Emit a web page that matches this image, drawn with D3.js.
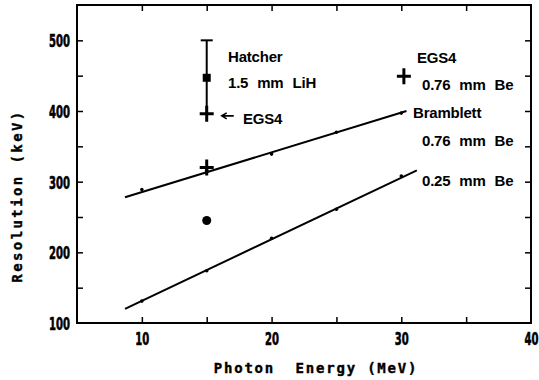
<!DOCTYPE html>
<html>
<head>
<meta charset="utf-8">
<script src="https://cdn.jsdelivr.net/npm/d3@7"></script>
<style>
body { margin: 0; background: #fff; }
svg { display: block; }
</style>
</head>
<body>
<script>
var width = 539, height = 380;
var left = 77, right = 531, top_ = 5, bottom = 323;

// Bramblett measured points (small dots on the lines)
var energies = [10, 15, 20, 25, 30];
var be076 = [289, 316, 339, 370, 397];
var be025 = [131, 174, 220, 261, 308];
// straight fits drawn through them
var fitE = [8.7, 30.4];
var fit076 = [278, 400];
var fitE025 = [8.7, 31.2];
var fit025 = [120, 316];
// single points at 15 / 30 MeV
var hatcherE = 15, hatcherVal = 447, hatcherHi = 500, hatcherLo = 395;
var egsLiH = [15, 396];
var egsBe076 = [[15, 320], [30.2, 449]];
var dotPoint = [15, 245];

var xTicks = [10, 20, 30, 40], xMinor = [10, 15, 20, 25, 30, 35];
var yTicks = [100, 200, 300, 400, 500], yMinor = [150, 200, 250, 300, 350, 400, 450, 500];

var svg = d3.select('body').append('svg').attr('width', width).attr('height', height);

var xScale = d3.scaleLinear().domain([5, 40]).range([left, right]);
var yScale = d3.scaleLinear().domain([100, 550]).range([bottom, top_]);

var ink = '#000';

// frame
svg.append('rect')
	.attr('x', left).attr('y', top_)
	.attr('width', right - left).attr('height', bottom - top_)
	.attr('fill', 'none').attr('stroke', ink).attr('stroke-width', 2);

// axes, ticks pointing inward
var xAx = svg.append('g').attr('transform', 'translate(0,' + bottom + ')')
	.call(d3.axisBottom(xScale).tickValues(xTicks).tickSize(0).tickPadding(9).tickFormat(d3.format('d')));
var yAx = svg.append('g').attr('transform', 'translate(' + left + ',0)')
	.call(d3.axisLeft(yScale).tickValues(yTicks).tickSize(0).tickPadding(7).tickFormat(d3.format('d')));
svg.selectAll('.domain').remove();

var sx = 0.62;
[xAx, yAx].forEach(function(a) {
	a.selectAll('text')
		.attr('fill', ink)
		.attr('stroke', ink).attr('stroke-width', 0.6)
		.style('font-family', '"DejaVu Sans Condensed", "DejaVu Sans", sans-serif')
		.style('font-weight', 'bold')
		.style('font-size', '18px');
});
xAx.selectAll('text').attr('dy', '0.72em').attr('transform', 'scale(' + sx + ',1)');
yAx.selectAll('text').attr('dy', '0.36em').attr('x', -7 / sx).attr('transform', 'scale(' + sx + ',1)');

svg.append('g').attr('transform', 'translate(0,' + bottom + ')')
	.call(d3.axisBottom(xScale).tickValues(xMinor).tickSize(-6).tickFormat(''))
	.call(g => g.select('.domain').remove());
svg.append('g').attr('transform', 'translate(0,' + top_ + ')')
	.call(d3.axisTop(xScale).tickValues(xMinor).tickSize(-6).tickFormat(''))
	.call(g => g.select('.domain').remove());
svg.append('g').attr('transform', 'translate(' + left + ',0)')
	.call(d3.axisLeft(yScale).tickValues(yMinor).tickSize(-6).tickFormat(''))
	.call(g => g.select('.domain').remove());
svg.append('g').attr('transform', 'translate(' + right + ',0)')
	.call(d3.axisRight(yScale).tickValues(yMinor).tickSize(-6).tickFormat(''))
	.call(g => g.select('.domain').remove());
svg.selectAll('.tick line').attr('stroke', ink).attr('stroke-width', 1.5);

// axis titles
svg.append('text')
	.attr('x', 316).attr('y', 373)
	.attr('text-anchor', 'middle')
	.attr('stroke', ink).attr('stroke-width', 0.4)
	.style('font-family', '"DejaVu Sans Mono", monospace')
	.style('font-weight', 'bold').style('font-size', '14px')
	.style('letter-spacing', '1.8px')
	.style('white-space', 'pre')
	.text('Photon  Energy (MeV)');
svg.append('text')
	.attr('transform', 'translate(22,196) rotate(-90)')
	.attr('text-anchor', 'middle')
	.attr('stroke', ink).attr('stroke-width', 0.4)
	.style('font-family', '"DejaVu Sans Mono", monospace')
	.style('font-weight', 'bold').style('font-size', '14px')
	.style('letter-spacing', '2.4px')
	.text('Resolution (keV)');

// fit lines
var line = d3.line().x(d => xScale(d[0])).y(d => yScale(d[1]));
svg.append('path').datum(d3.zip(fitE, fit076)).attr('d', line)
	.attr('fill', 'none').attr('stroke', ink).attr('stroke-width', 2);
svg.append('path').datum(d3.zip(fitE025, fit025)).attr('d', line)
	.attr('fill', 'none').attr('stroke', ink).attr('stroke-width', 2);

// small dots
svg.append('g').selectAll('circle').data(d3.zip(energies, be076).concat(d3.zip(energies, be025)))
	.enter().append('circle')
	.attr('cx', d => xScale(d[0])).attr('cy', d => yScale(d[1]))
	.attr('r', 1.8).attr('fill', ink);

// Hatcher error bar + square
svg.append('line')
	.attr('x1', xScale(hatcherE)).attr('x2', xScale(hatcherE))
	.attr('y1', yScale(hatcherHi)).attr('y2', yScale(hatcherLo))
	.attr('stroke', ink).attr('stroke-width', 2);
svg.append('line')
	.attr('x1', xScale(hatcherE) - 6).attr('x2', xScale(hatcherE) + 6)
	.attr('y1', yScale(hatcherHi)).attr('y2', yScale(hatcherHi))
	.attr('stroke', ink).attr('stroke-width', 2);
svg.append('rect')
	.attr('x', xScale(hatcherE) - 4).attr('y', yScale(hatcherVal) - 4)
	.attr('width', 8).attr('height', 8).attr('fill', ink);

// EGS4 crosses
var crosses = [egsLiH].concat(egsBe076);
svg.append('g').selectAll('path').data(crosses).enter().append('path')
	.attr('d', d => { var x = xScale(d[0]), y = yScale(d[1]);
		return 'M' + (x - 7) + ',' + y + 'H' + (x + 7) + 'M' + x + ',' + (y - 8) + 'V' + (y + 8); })
	.attr('stroke', ink).attr('stroke-width', 3).attr('fill', 'none');

svg.append('circle')
	.attr('cx', xScale(dotPoint[0])).attr('cy', yScale(dotPoint[1]))
	.attr('r', 4.5).attr('fill', ink);

// arrow pointing to EGS4 LiH
var ax = xScale(egsLiH[0]) + 15, ay = yScale(egsLiH[1]) + 2;
svg.append('path')
	.attr('d', 'M' + (ax + 12) + ',' + ay + 'H' + ax + 'M' + (ax + 5) + ',' + (ay - 3) + 'L' + ax + ',' + ay + 'L' + (ax + 5) + ',' + (ay + 3))
	.attr('stroke', ink).attr('stroke-width', 1.6).attr('fill', 'none');

// annotations
var notes = [
	['Hatcher', 228, 62], ['1.5 mm LiH', 228, 88], ['EGS4', 243, 124],
	['EGS4', 417, 63], ['0.76 mm Be', 422, 90], ['Bramblett', 413, 118],
	['0.76 mm Be', 422, 146], ['0.25 mm Be', 422, 186]
];
svg.append('g').selectAll('text').data(notes).enter().append('text')
	.attr('x', d => d[1]).attr('y', d => d[2])
	.style('font-family', '"Liberation Sans", Arial, sans-serif')
	.style('font-weight', 'bold').style('font-size', '15px')
	.style('letter-spacing', '-0.2px')
	.style('word-spacing', '5px')
	.attr('fill', ink)
	.text(d => d[0]);
</script>
</body>
</html>
